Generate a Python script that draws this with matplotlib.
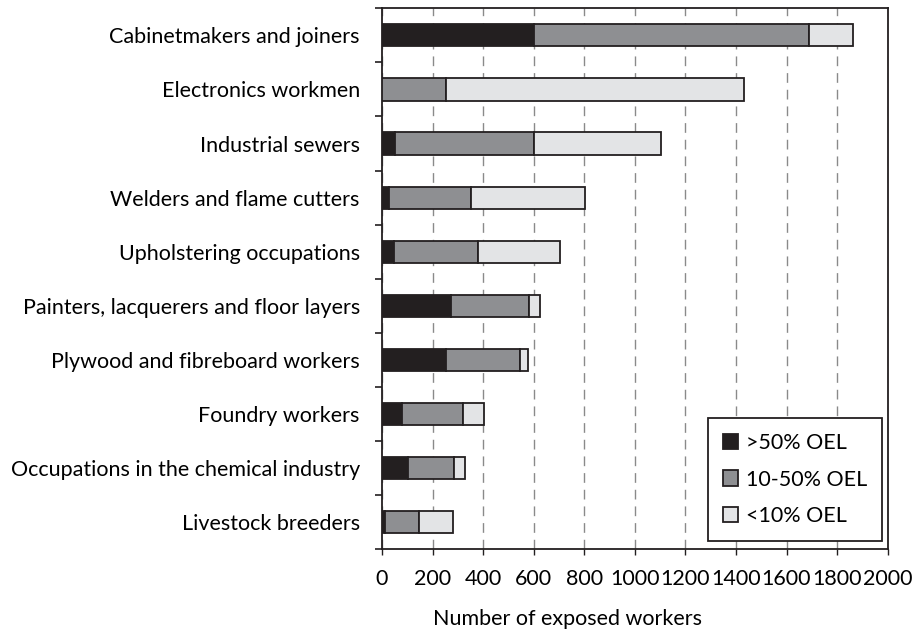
import matplotlib
matplotlib.use("Agg")
import matplotlib.pyplot as plt
import numpy as np
from matplotlib.ticker import FixedLocator

plt.rcParams['font.family'] = ['Lato', 'DejaVu Sans']

occupations = ['Cabinetmakers and joiners', 'Electronics workmen', 'Industrial sewers',
               'Welders and flame cutters', 'Upholstering occupations',
               'Painters, lacquerers and floor layers', 'Plywood and fibreboard workers',
               'Foundry workers', 'Occupations in the chemical industry', 'Livestock breeders']
above_50 = [600, 0, 50, 28, 47, 272, 254, 78, 102, 12]
mid_10_50 = [1090, 255, 550, 322, 333, 309, 292, 242, 183, 134]
below_10 = [173, 1178, 502, 452, 325, 45, 31, 82, 42, 135]
series_labels = ['>50% OEL', '10-50% OEL', '<10% OEL']
colors = ['#231f20', '#8e8f92', '#e3e4e6']

fs = 15.5

fig, ax = plt.subplots(figsize=(9.17, 6.33), dpi=100)
fig.subplots_adjust(left=0.4166, right=0.968, top=0.987, bottom=0.132)

y = np.arange(len(occupations))
left = np.zeros(len(occupations))
for vals, lab, col in zip([above_50, mid_10_50, below_10], series_labels, colors):
    ax.barh(y, vals, left=left, height=0.41, color=col, edgecolor='#231f20',
            linewidth=1.3, label=lab, zorder=3)
    left += np.array(vals)

ax.set_xlim(0, 2000)
ax.set_ylim(len(occupations) - 0.5, -0.5)
ax.set_xticks(np.arange(0, 2001, 200))
ax.set_yticks(y)
ax.set_yticklabels(occupations)
ax.yaxis.set_minor_locator(FixedLocator(np.arange(-0.5, len(occupations), 1)))
ax.tick_params(axis='y', which='major', length=0, pad=16, labelsize=fs)
ax.tick_params(axis='y', which='minor', length=5, width=1.2, color='#231f20')
ax.tick_params(axis='x', length=4, width=1, color='#231f20', labelsize=fs, pad=10)
ax.grid(axis='x', linestyle=(0, (7, 5)), color='#8a8a8a', linewidth=1, zorder=0)
for s in ax.spines.values():
    s.set_color('#231f20')
    s.set_linewidth(1.3)

ax.set_xlabel('Number of exposed workers', fontsize=fs)
ax.xaxis.set_label_coords(0.366, -0.11)

leg = ax.legend(loc='lower right', bbox_to_anchor=(0.989, 0.016), fontsize=fs,
                frameon=True, fancybox=False, edgecolor='#231f20',
                handlelength=0.7, handleheight=0.7, handletextpad=0.35,
                labelspacing=0.75, borderpad=0.7, borderaxespad=0)
leg.get_frame().set_linewidth(1.3)
leg.get_frame().set_alpha(1)
leg.set_zorder(5)

fig.savefig('out.png', dpi=100)
